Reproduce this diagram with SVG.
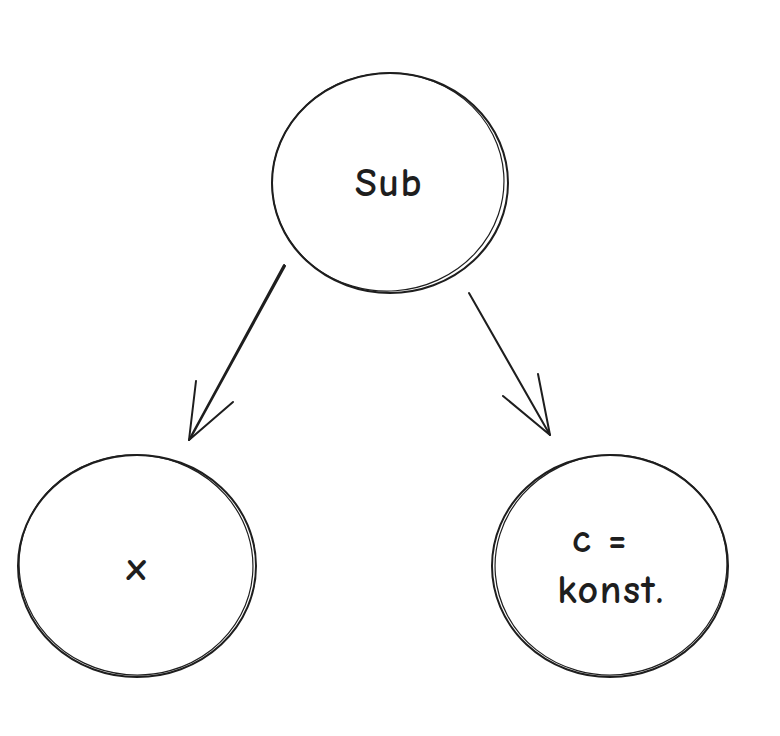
<svg xmlns="http://www.w3.org/2000/svg" width="780" height="736" viewBox="0 0 780 736">
<style>
.c{fill:none;stroke:#1e1e1e;stroke-width:2;stroke-linecap:round}
.c2{fill:none;stroke:#1e1e1e;stroke-width:1.2;stroke-linecap:round}
.a{fill:none;stroke:#1e1e1e;stroke-width:2;stroke-linecap:round;stroke-linejoin:round}
.t{font-family:"Comic Neue","Open Sans","Liberation Sans",sans-serif;font-size:40px;font-weight:700;fill:#1e1e1e;text-anchor:middle;letter-spacing:1.5px}
</style>
<rect width="780" height="736" fill="#ffffff"/>
<g id="node-sub">
<ellipse class="c" cx="390" cy="183" rx="118" ry="110"/>
<ellipse class="c2" cx="388" cy="182" rx="116" ry="109" transform="rotate(-4 388 182)"/>
<text class="t" x="389" y="196">Sub</text>
</g>
<g id="node-x">
<ellipse class="c" cx="137" cy="566" rx="119" ry="111"/>
<ellipse class="c2" cx="136" cy="565" rx="117" ry="110" transform="rotate(5 136 565)"/>
<text class="t" x="137" y="580">x</text>
</g>
<g id="node-c">
<ellipse class="c" cx="610" cy="566" rx="118" ry="111"/>
<ellipse class="c2" cx="611" cy="565" rx="116" ry="110" transform="rotate(-5 611 565)"/>
<text class="t" x="600" y="552">c =</text>
<text class="t" x="611" y="603">konst.</text>
</g>
<g id="connectors">
<path class="a" d="M284 265 L189 440 M285 266 L190 439"/>
<path class="a" d="M196 381 L189 440 L233 402"/>
<path class="a" d="M469 293 L550 435"/>
<path class="a" d="M538 374 L550 435 L503 396"/>
</g>
</svg>
